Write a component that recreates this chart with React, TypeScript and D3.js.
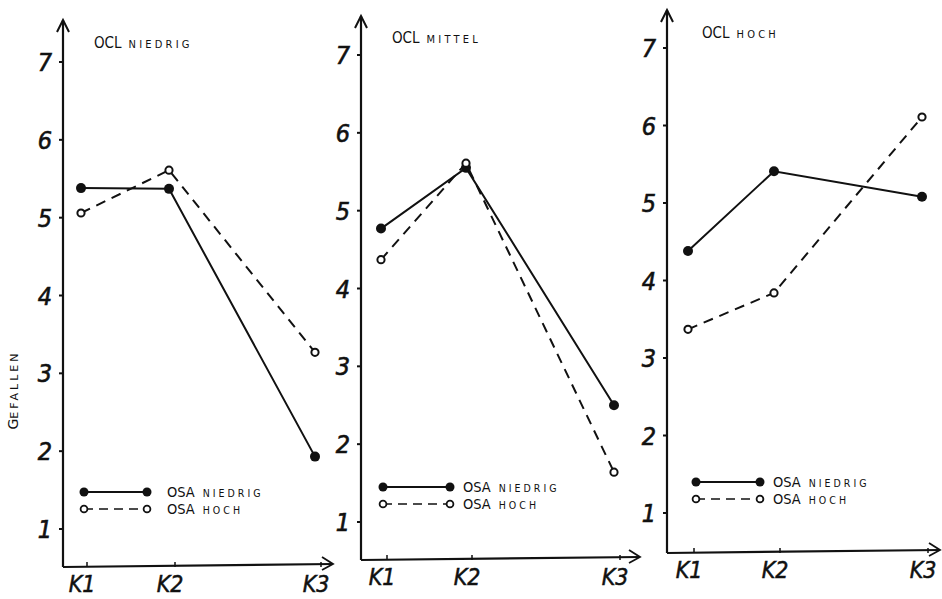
import React from "react";
import * as d3 from "d3";

const categories = ["K1", "K2", "K3"];
const yTicks = [1, 2, 3, 4, 5, 6, 7];
const panelTitles = [["OCL", "NIEDRIG"], ["OCL", "MITTEL"], ["OCL", "HOCH"]];
const seriesNames = [["OSA", "NIEDRIG"], ["OSA", "HOCH"]];
// values per panel: [OSA niedrig, OSA hoch]
const oclNiedrigOsaNiedrig = [5.38, 5.37, 1.93];
const oclNiedrigOsaHoch = [5.06, 5.61, 3.27];
const oclMittelOsaNiedrig = [4.77, 5.55, 2.5];
const oclMittelOsaHoch = [4.37, 5.61, 1.64];
const oclHochOsaNiedrig = [4.38, 5.41, 5.08];
const oclHochOsaHoch = [3.37, 3.84, 6.11];

const panelData = [
  [oclNiedrigOsaNiedrig, oclNiedrigOsaHoch],
  [oclMittelOsaNiedrig, oclMittelOsaHoch],
  [oclHochOsaNiedrig, oclHochOsaHoch],
];

const layouts = [
  { axisX: 63, y1: 529, y7: 62, base: 567, top: 20, xEnd: 333, cx: [81, 169, 315], tx: 94, ty: 48, ly: [492, 509], lx: [84, 147], ltx: 167 },
  { axisX: 361, y1: 522, y7: 55, base: 560, top: 16, xEnd: 640, cx: [381, 466, 614], tx: 392, ty: 43, ly: [487, 504], lx: [383, 450], ltx: 463 },
  { axisX: 667, y1: 513, y7: 48, base: 553, top: 10, xEnd: 940, cx: [688, 774, 922], tx: 702, ty: 38, ly: [482, 499], lx: [696, 760], ltx: 773 },
];

const ink = "#111";
const handFont = "'DejaVu Sans', sans-serif";

function Panel({ idx }: { idx: number }) {
  const L = layouts[idx];
  const y = d3.scaleLinear().domain([1, 7]).range([L.y1, L.y7]);
  const x = d3.scaleOrdinal<string, number>().domain(categories).range(L.cx);
  const line = d3
    .line<number>()
    .x((_, i) => x(categories[i]))
    .y((d) => y(d));
  const [solid, dashed] = panelData[idx];
  return (
    <g>
      {/* y axis */}
      <line x1={L.axisX} y1={L.top} x2={L.axisX} y2={L.base} stroke={ink} strokeWidth={2.2} />
      <path d={`M${L.axisX - 6},${L.top + 12} L${L.axisX},${L.top} L${L.axisX + 6},${L.top + 12}`} fill="none" stroke={ink} strokeWidth={2} />
      {/* x axis */}
      <line x1={L.axisX} y1={L.base} x2={L.xEnd} y2={L.base - 3} stroke={ink} strokeWidth={2.2} />
      <path d={`M${L.xEnd - 11},${L.base - 10} L${L.xEnd},${L.base - 3} L${L.xEnd - 11},${L.base + 3}`} fill="none" stroke={ink} strokeWidth={1.8} />
      {yTicks.map((t) => (
        <g key={t}>
          <line x1={L.axisX - 4} x2={L.axisX} y1={y(t)} y2={y(t)} stroke={ink} strokeWidth={2} />
          <text x={L.axisX - 11} y={y(t) + 9} textAnchor="end" fontSize={25} fontStyle="italic" fontStretch="condensed" fontFamily={handFont} fill={ink} stroke={ink} strokeWidth={0.6}>
            {t}
          </text>
        </g>
      ))}
      {categories.map((c) => (
        <g key={c}>
          <line x1={x(c) + 6} x2={x(c) + 6} y1={L.base - 5} y2={L.base} stroke={ink} strokeWidth={1.5} />
          <text x={x(c) + 1} y={L.base + 25} textAnchor="middle" fontSize={23} fontStyle="italic" fontStretch="condensed" fontFamily={handFont} fill={ink} stroke={ink} strokeWidth={0.5}>
            {c}
          </text>
        </g>
      ))}
      <text x={L.tx} y={L.ty} fontFamily={handFont} fill={ink} fontStretch="condensed">
        <tspan fontSize={15}>{panelTitles[idx][0]}</tspan>
        <tspan fontSize={11} letterSpacing={3.2} dx={7}>{panelTitles[idx][1]}</tspan>
      </text>
      {/* series lines */}
      <path d={line(solid) || ""} fill="none" stroke={ink} strokeWidth={2} />
      <path d={line(dashed) || ""} fill="none" stroke={ink} strokeWidth={2} strokeDasharray="10,7" />
      {solid.map((v, i) => (
        <circle key={"s" + i} cx={x(categories[i])} cy={y(v)} r={5} fill={ink} />
      ))}
      {dashed.map((v, i) => (
        <circle key={"d" + i} cx={x(categories[i])} cy={y(v)} r={3.6} fill="#fff" stroke={ink} strokeWidth={2} />
      ))}
      {/* legend */}
      <line x1={L.lx[0]} x2={L.lx[1]} y1={L.ly[0]} y2={L.ly[0]} stroke={ink} strokeWidth={2} />
      <circle cx={L.lx[0]} cy={L.ly[0]} r={4.5} fill={ink} />
      <circle cx={L.lx[1]} cy={L.ly[0]} r={4.5} fill={ink} />
      <line x1={L.lx[0]} x2={L.lx[1]} y1={L.ly[1]} y2={L.ly[1]} stroke={ink} strokeWidth={1.6} strokeDasharray="9,6" />
      <circle cx={L.lx[0]} cy={L.ly[1]} r={3.4} fill="#fff" stroke={ink} strokeWidth={1.8} />
      <circle cx={L.lx[1]} cy={L.ly[1]} r={3.4} fill="#fff" stroke={ink} strokeWidth={1.8} />
      {seriesNames.map((s, i) => (
        <text key={i} x={L.ltx} y={L.ly[i] + 5} fontFamily={handFont} fontStretch="condensed" fill={ink}>
          <tspan fontSize={14.5}>{s[0]}</tspan>
          <tspan fontSize={10.5} letterSpacing={3} dx={8}>{s[1]}</tspan>
        </text>
      ))}
    </g>
  );
}

export default function App() {
  return (
    <svg width={942} height={599} style={{ position: "absolute", left: 0, top: 0, background: "#fff" }}>
      <rect width={942} height={599} fill="#fff" />
      {[0, 1, 2].map((i) => (
        <Panel key={i} idx={i} />
      ))}
      <text transform="translate(18,390) rotate(-90)" textAnchor="middle" fontFamily={handFont} fill={ink}>
        <tspan fontSize={14}>G</tspan>
        <tspan fontSize={11} letterSpacing={3}>EFALLEN</tspan>
      </text>
    </svg>
  );
}
